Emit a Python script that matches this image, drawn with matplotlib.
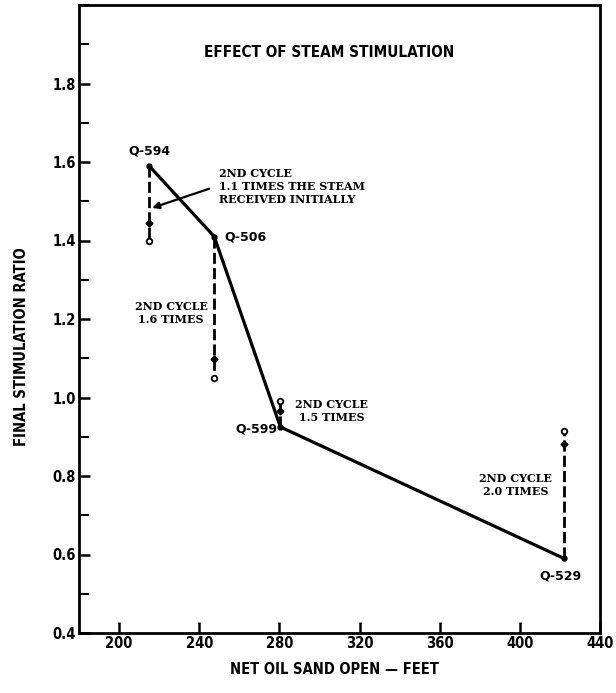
import matplotlib
matplotlib.use("Agg")
import matplotlib.pyplot as plt
from matplotlib.ticker import MultipleLocator, FixedLocator

# ---- data ----
wells = ["Q-594", "Q-506", "Q-599", "Q-529"]
net_oil_sand = [215, 247.5, 280.5, 422]          # feet
final_ratio = [1.59, 1.41, 0.925, 0.59]          # first-cycle final stimulation ratio
second_cycle_ratio = [1.40, 1.05, 0.99, 0.915]   # ratio after 2nd cycle
arrow_marks = [1.445, 1.097, 0.965, 0.882]       # arrow-head positions on dashed lines
cycle_notes = ["2ND CYCLE\n1.1 TIMES THE STEAM\nRECEIVED INITIALLY",
               "2ND CYCLE\n1.6 TIMES",
               "2ND CYCLE\n1.5 TIMES",
               "2ND CYCLE\n2.0 TIMES"]
x_ticks = [200, 240, 280, 320, 360, 400, 440]
y_ticks = [0.4, 0.6, 0.8, 1.0, 1.2, 1.4, 1.6, 1.8]

narrow = dict(family="DejaVu Sans", fontstretch="condensed", fontweight="bold")
serif = ["DejaVu Serif"]

fig = plt.figure(figsize=(6.16, 6.93), dpi=100)
W, H = 616, 693
left, right, top, bottom = 79, 600, 5, 633
ax = fig.add_axes([left / W, 1 - bottom / H, (right - left) / W, (bottom - top) / H])

ax.set_xlim(180, 440)
ax.set_ylim(0.4, 2.0)

# main curve
ax.plot(net_oil_sand, final_ratio, color="black", lw=2.3, solid_joinstyle="miter", zorder=3)
ax.plot(net_oil_sand, final_ratio, "o", color="black", ms=3.5, zorder=4)

# second-cycle dashed lines
for x, y0, y1, ym in zip(net_oil_sand, final_ratio, second_cycle_ratio, arrow_marks):
    ax.plot([x, x], [y0, y1], color="black", lw=2.0, dashes=(4, 1.5), zorder=3)
    ax.plot([x], [y1], "o", mfc="white", mec="black", ms=4, mew=1.3, zorder=4)
    ax.plot([x], [ym], "D", color="black", ms=3.5, zorder=4)

# well labels
lab_font = dict(family="DejaVu Sans", fontweight="bold", fontsize=9)
ax.text(net_oil_sand[0], final_ratio[0] + 0.022, wells[0], ha="center", va="bottom", **lab_font)
ax.text(net_oil_sand[1] + 5, final_ratio[1], wells[1], ha="left", va="center", **lab_font)
ax.text(net_oil_sand[2] - 1.5, final_ratio[2] - 0.006, wells[2], ha="right", va="center", **lab_font)
ax.text(net_oil_sand[3] - 1.5, final_ratio[3] - 0.028, wells[3], ha="center", va="top", **lab_font)

# cycle notes
note_font = dict(family=serif, fontweight="bold", fontsize=8, linespacing=1.25)
ax.text(250, 1.537, cycle_notes[0], ha="left", va="center", **note_font)
ax.text(226, 1.216, cycle_notes[1], ha="center", va="center", **note_font)
ax.text(306, 0.965, cycle_notes[2], ha="center", va="center", **note_font)
ax.text(398, 0.777, cycle_notes[3], ha="center", va="center", **note_font)

ax.annotate("", xy=(216.5, 1.483), xytext=(245, 1.532),
            arrowprops=dict(arrowstyle="-|>", color="black", lw=1.6,
                            mutation_scale=10, shrinkA=0, shrinkB=0))

# title
ax.text(305, 1.878, "EFFECT OF STEAM STIMULATION", ha="center", va="center",
        fontsize=11, **narrow)

# axes styling
for s in ax.spines.values():
    s.set_linewidth(2.0)
ax.xaxis.set_major_locator(FixedLocator(x_ticks))
ax.yaxis.set_major_locator(FixedLocator(y_ticks))
ax.yaxis.set_minor_locator(MultipleLocator(0.1))
ax.tick_params(axis="both", which="major", direction="in", length=8, width=1.8, pad=2)
ax.tick_params(axis="y", which="minor", direction="in", length=7, width=1.5)
ax.set_xticklabels([str(v) for v in x_ticks], fontsize=10.5, **narrow)
ax.set_yticklabels([f"{v:.1f}" for v in y_ticks], fontsize=10.5, **narrow)

fig.text(334 / W, 1 - 670 / H, "NET OIL SAND OPEN \u2014 FEET", ha="center", va="center",
         fontsize=10.5, **narrow)
fig.text(22 / W, 1 - 347 / H, "FINAL STIMULATION RATIO", ha="center", va="center",
         rotation=90, fontsize=10.5, **narrow)

fig.savefig("out.png", dpi=100)
